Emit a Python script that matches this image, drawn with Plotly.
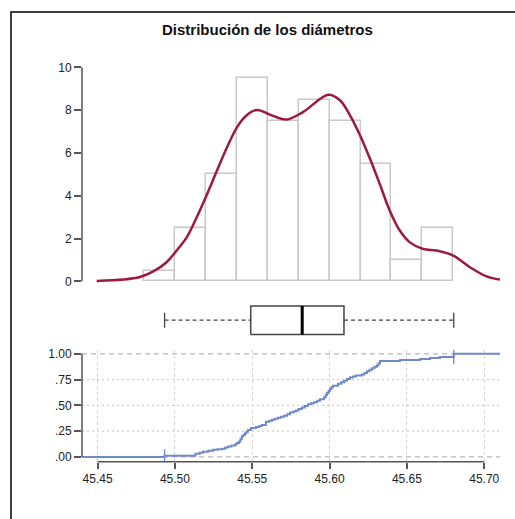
import plotly.graph_objects as go

# Histogram of the diameters (density scale, bin width 0.02)
bin_left = [45.48, 45.50, 45.52, 45.54, 45.56, 45.58, 45.60, 45.62, 45.64, 45.66]
bin_width = 0.02
density = [0.5, 2.5, 5.0, 9.5, 7.5, 8.5, 7.5, 5.5, 1.0, 2.5]

# Kernel density estimate
kde_x = [45.4494, 45.4666, 45.4774, 45.4860, 45.4946, 45.5002, 45.5076, 45.5140,
         45.5202, 45.5270, 45.5334, 45.5403, 45.5464, 45.5532, 45.5614, 45.5722,
         45.5830, 45.5991, 45.6067, 45.6132, 45.6196, 45.6260, 45.6326, 45.6390,
         45.6455, 45.6519, 45.6606, 45.6692, 45.6800, 45.6908, 45.7015, 45.7102]
kde_y = [0.02, 0.08, 0.20, 0.46, 0.89, 1.36, 2.05, 2.98,
         3.98, 5.14, 6.22, 7.22, 7.76, 8.01, 7.79, 7.56,
         7.92, 8.72, 8.46, 7.76, 6.84, 5.75, 4.52, 3.29,
         2.36, 1.82, 1.51, 1.44, 1.20, 0.66, 0.23, 0.08]

# Five-number summary for the boxplot
d_min, d_q1, d_med, d_q3, d_max = 45.4933, 45.5490, 45.5823, 45.6093, 45.6803

# Empirical cumulative distribution
ecdf_x = [45.4399, 45.4932, 45.5132, 45.5160, 45.5181, 45.5215, 45.5246, 45.5275,
          45.5304, 45.5325, 45.5343, 45.5365, 45.5388, 45.5400, 45.5414, 45.5424,
          45.5433, 45.5443, 45.5453, 45.5462, 45.5472, 45.5491, 45.5524, 45.5545,
          45.5562, 45.5588, 45.5610, 45.5627, 45.5645, 45.5666, 45.5685, 45.5705,
          45.5725, 45.5744, 45.5765, 45.5783, 45.5800, 45.5821, 45.5840, 45.5860,
          45.5880, 45.5899, 45.5920, 45.5938, 45.5964, 45.5975, 45.5983, 45.5993,
          45.6002, 45.6012, 45.6022, 45.6054, 45.6075, 45.6093, 45.6112, 45.6132,
          45.6150, 45.6170, 45.6209, 45.6225, 45.6242, 45.6258, 45.6274, 45.6290,
          45.6306, 45.6316, 45.6326, 45.6455, 45.6584, 45.6650, 45.6713, 45.6803,
          45.7102]
ecdf_y = [0.00, 0.01, 0.03, 0.04, 0.05, 0.06, 0.07, 0.075,
          0.08, 0.09, 0.10, 0.11, 0.12, 0.135, 0.15, 0.175,
          0.20, 0.215, 0.23, 0.245, 0.26, 0.28, 0.29, 0.30,
          0.31, 0.34, 0.35, 0.36, 0.37, 0.38, 0.39, 0.40,
          0.415, 0.43, 0.44, 0.45, 0.465, 0.48, 0.495, 0.51,
          0.52, 0.53, 0.545, 0.56, 0.58, 0.60, 0.62, 0.64,
          0.66, 0.675, 0.69, 0.71, 0.725, 0.74, 0.755, 0.77,
          0.78, 0.79, 0.80, 0.815, 0.83, 0.845, 0.86, 0.875,
          0.89, 0.91, 0.93, 0.94, 0.95, 0.96, 0.97, 1.00,
          1.00]

x_ticks = [45.45, 45.50, 45.55, 45.60, 45.65, 45.70]
hist_ticks = [0, 2, 4, 6, 8, 10]
cdf_ticks = [0, 0.25, 0.5, 0.75, 1.0]
cdf_ticktext = [".00", ".25", ".50", ".75", "1.00"]

W, H = 515, 519
X_RANGE = [45.4399, 45.7102]
X_DOM = [82 / W, 500 / W]


def py(px):
    return 1 - px / H


FONT = "Arial, Liberation Sans, sans-serif"
AXC = "#555555"
TXT = "#222222"

fig = go.Figure()

# histogram
fig.add_trace(go.Bar(
    x=[b + bin_width / 2 for b in bin_left], y=density, width=bin_width,
    marker=dict(color="rgba(0,0,0,0)", line=dict(color="#c8c8c8", width=1.5)),
    xaxis="x", yaxis="y", showlegend=False, hoverinfo="skip"))

# density curve
fig.add_trace(go.Scatter(
    x=kde_x, y=kde_y, mode="lines", line=dict(color="#9e1a3c", width=2.5, shape="spline"),
    xaxis="x", yaxis="y", showlegend=False))

# boxplot
BOX_LO, BOX_HI, BOX_MID, CAP_LO, CAP_HI = 0.17, 0.84, 0.505, 0.33, 0.68
fig.add_trace(go.Scatter(
    x=[d_q1, d_q3, d_q3, d_q1, d_q1], y=[BOX_LO, BOX_LO, BOX_HI, BOX_HI, BOX_LO],
    mode="lines", line=dict(color="#444444", width=1.5),
    xaxis="x2", yaxis="y2", showlegend=False))
fig.add_trace(go.Scatter(
    x=[d_med, d_med], y=[BOX_LO, BOX_HI], mode="lines", line=dict(color="#000000", width=3),
    xaxis="x2", yaxis="y2", showlegend=False))
for a, b in [(d_min, d_q1), (d_q3, d_max)]:
    fig.add_trace(go.Scatter(
        x=[a, b], y=[BOX_MID, BOX_MID], mode="lines",
        line=dict(color="#444444", width=1.3, dash="4px,3px"),
        xaxis="x2", yaxis="y2", showlegend=False))
for v in (d_min, d_max):
    fig.add_trace(go.Scatter(
        x=[v, v], y=[CAP_LO, CAP_HI], mode="lines", line=dict(color="#444444", width=1.3),
        xaxis="x2", yaxis="y2", showlegend=False))

# ECDF
fig.add_trace(go.Scatter(
    x=ecdf_x, y=ecdf_y, mode="lines", line=dict(color="#7089c8", width=2, shape="hv"),
    xaxis="x3", yaxis="y3", showlegend=False))
fig.add_trace(go.Scatter(
    x=[d_min, d_max], y=[0.0, 0.975], mode="markers",
    marker=dict(symbol="line-ns", size=11, line=dict(color="#7089c8", width=1.3)),
    xaxis="x3", yaxis="y3", showlegend=False))

shapes = [
    # outer frame
    dict(type="rect", xref="paper", yref="paper", x0=11 / W, x1=1.2, y0=-0.2, y1=py(9),
         line=dict(color="#000000", width=1.5), layer="above"),
    # axis lines
    dict(type="line", xref="x domain", yref="y", x0=0, x1=0, y0=0, y1=10,
         line=dict(color=AXC, width=1.5)),
    dict(type="line", xref="x3 domain", yref="y3", x0=0, x1=0, y0=0, y1=1,
         line=dict(color=AXC, width=1.5)),
    dict(type="line", xref="x3", yref="y3 domain", x0=x_ticks[0], x1=x_ticks[-1], y0=0, y1=0,
         line=dict(color=AXC, width=1.5)),
]
# horizontal reference lines of the ECDF panel
for v in cdf_ticks:
    end = v in (0, 1.0)
    shapes.append(dict(type="line", xref="x3 domain", yref="y3", x0=0, x1=1, y0=v, y1=v,
                       line=dict(color="#b8b8b8" if end else "#cfcfcf", width=1.2,
                                 dash="5px,4px" if end else "2px,3px"), layer="below"))

fig.update_layout(
    width=W, height=H, margin=dict(l=0, r=0, t=0, b=0),
    paper_bgcolor="white", plot_bgcolor="rgba(0,0,0,0)",
    font=dict(family=FONT, size=12, color=TXT),
    bargap=0, shapes=shapes,
    xaxis=dict(domain=X_DOM, range=X_RANGE, visible=False, anchor="y"),
    yaxis=dict(domain=[py(287.5), py(58.5)], range=[-0.3, 10.3], tickvals=hist_ticks,
               ticks="outside", ticklen=7, tickwidth=1.5, tickcolor=AXC, showgrid=False,
               zeroline=False, showline=False, anchor="x", tickfont=dict(size=12, color=TXT)),
    xaxis2=dict(domain=X_DOM, range=X_RANGE, visible=False, anchor="y2"),
    yaxis2=dict(domain=[py(342), py(299)], range=[0, 1], visible=False, anchor="x2"),
    xaxis3=dict(domain=X_DOM, range=X_RANGE, tickvals=x_ticks, tickformat=".2f",
                ticks="outside", ticklen=6, tickwidth=1.5, tickcolor=AXC,
                showgrid=True, gridcolor="#d4d4d4", griddash="dot", gridwidth=1,
                zeroline=False, showline=False, anchor="y3", tickfont=dict(size=12, color=TXT)),
    yaxis3=dict(domain=[py(463.3), py(350)], range=[-0.048, 1.041], tickvals=cdf_ticks,
                ticktext=cdf_ticktext, ticks="outside", ticklen=7, tickwidth=1.5, tickcolor=AXC,
                showgrid=False, zeroline=False, showline=False, anchor="x3",
                tickfont=dict(size=12, color=TXT)),
    annotations=[dict(text="<b>Distribución de los diámetros</b>", xref="paper", yref="paper",
                      x=267.5 / W, y=py(26.5), xanchor="center", yanchor="middle",
                      showarrow=False, font=dict(family=FONT, size=15, color="#111111"))],
)

fig.write_html("out.html")
